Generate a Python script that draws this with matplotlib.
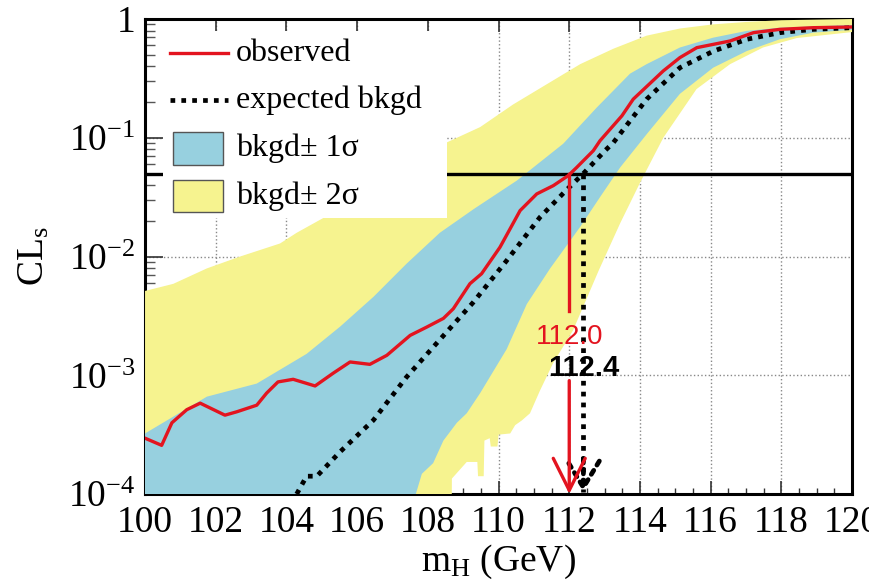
"""CLs vs m_H — observed / expected with 1 and 2 sigma bands (LEP-style)."""

import numpy as np
import matplotlib
matplotlib.use("Agg")
import matplotlib.pyplot as plt
from matplotlib.lines import Line2D
from matplotlib.patches import Rectangle
from matplotlib.ticker import FixedLocator, FixedFormatter, MultipleLocator, NullFormatter

plt.rcParams["font.family"] = ["Liberation Serif", "DejaVu Serif"]
plt.rcParams["mathtext.fontset"] = "custom"
plt.rcParams["mathtext.rm"] = "Liberation Serif"
plt.rcParams["mathtext.it"] = "Liberation Serif:italic"

# ---- data: log10(CLs) ----
obs_mh = [100.0, 100.47, 100.76, 101.18, 101.56, 102.26, 102.59, 103.16, 103.44, 103.76,
          104.19, 104.81, 105.32, 105.80, 106.36, 106.84, 107.50, 107.97, 108.44, 108.72,
          109.19, 109.52, 110.04, 110.61, 111.08, 111.55, 111.97, 112.21, 112.68, 112.87,
          113.49, 113.81, 114.66, 115.13, 115.61, 116.08, 116.55, 117.21, 117.96, 118.90, 120.0]
obs_log = [-3.53, -3.59, -3.40, -3.29, -3.235, -3.336, -3.308, -3.252, -3.15, -3.056,
           -3.034, -3.09, -2.983, -2.888, -2.908, -2.832, -2.664, -2.594, -2.521, -2.44,
           -2.229, -2.145, -1.922, -1.613, -1.473, -1.403, -1.319, -1.25, -1.109, -1.025,
           -0.815, -0.675, -0.437, -0.325, -0.241, -0.213, -0.185, -0.115, -0.087, -0.073, -0.067]

exp_mh = [104.29, 104.57, 104.86, 105.52, 106.46, 107.40, 108.34, 109.29, 110.23, 111.17,
          111.92, 112.40, 113.01, 113.25, 114.19, 115.13, 116.08, 117.02, 117.96, 118.90, 120.0]
exp_log = [-4.0, -3.85, -3.85, -3.644, -3.378, -3.014, -2.70, -2.384, -2.034, -1.67,
           -1.44, -1.301, -1.109, -1.04, -0.675, -0.41, -0.27, -0.171, -0.115, -0.087, -0.073]

# +-1 sigma band
s1_hi_mh = [100.0, 101.75, 103.16, 104.57, 105.52, 106.46, 107.40, 108.34, 109.30, 110.52,
            111.83, 112.78, 113.72, 114.19, 115.13, 116.07, 117.02, 117.96, 120.0]
s1_hi_log = [-3.49, -3.18, -3.07, -2.82, -2.59, -2.34, -2.06, -1.80, -1.60, -1.36,
             -1.05, -0.745, -0.46, -0.38, -0.24, -0.157, -0.10, -0.073, -0.05]
s1_lo_mh = [100.0, 107.55, 107.64, 107.83, 108.15, 108.44, 108.82, 109.10, 109.48, 110.23,
            110.80, 111.46, 112.31, 112.87, 113.44, 114.19, 115.13, 116.07, 117.02, 117.96,
            118.90, 120.0]
s1_lo_log = [-5.0, -5.0, -4.02, -3.83, -3.74, -3.55, -3.40, -3.32, -3.15, -2.78,
             -2.40, -2.10, -1.75, -1.50, -1.25, -0.97, -0.63, -0.41, -0.27, -0.17,
             -0.115, -0.09]

# +-2 sigma band
s2_hi_mh = [100.0, 100.80, 101.75, 102.69, 103.82, 104.29, 105.50, 107.00, 108.53, 109.48,
            110.41, 111.36, 112.31, 113.25, 114.19, 115.13, 116.07, 117.00, 118.00, 120.0]
s2_hi_log = [-2.29, -2.23, -2.10, -2.0, -1.89, -1.80, -1.60, -1.30, -1.04, -0.91,
             -0.72, -0.55, -0.38, -0.25, -0.14, -0.08, -0.045, -0.025, -0.01, 0.0]
s2_lo_mh = [100.0, 108.66, 108.68, 109.10, 109.40, 109.42, 109.58, 109.60, 109.75, 109.78,
            109.97, 110.00, 110.33, 110.47, 110.66, 110.89, 111.17, 111.54, 112.11, 112.83,
            113.44, 114.00, 114.66, 115.60, 116.55, 117.48, 118.44, 120.0]
s2_lo_log = [-5.0, -5.0, -3.87, -3.73, -3.73, -3.85, -3.85, -3.55, -3.53, -3.60,
             -3.60, -3.50, -3.49, -3.42, -3.38, -3.32, -3.13, -2.90, -2.62, -2.12,
             -1.72, -1.38, -1.00, -0.59, -0.38, -0.24, -0.16, -0.11]

cl_level = 0.05
obs_limit = 112.0
exp_limit = 112.4

x_ticks = [100, 102, 104, 106, 108, 110, 112, 114, 116, 118, 120]
y_ticks = [1e-4, 1e-3, 1e-2, 1e-1, 1]
y_ticklabels = ["$10^{-4}$", "$10^{-3}$", "$10^{-2}$", "$10^{-1}$", "1"]

RED = "#e3141f"
BLUE = "#97d0df"
YELLOW = "#f6f38f"
DOTS = (0, (1.0, 1.3))
LW_DOT = 3.4

fig = plt.figure(figsize=(8.69, 5.87), dpi=100)
ax = fig.add_axes([0.1669, 0.1584, 0.8136, 0.8092])
ax.set_yscale("log")


def band(hi_x, hi_y, lo_x, lo_y):
    xs = np.r_[hi_x, lo_x[::-1]]
    ys = np.power(10.0, np.r_[hi_y, lo_y[::-1]])
    return xs, ys


ax.fill(*band(s2_hi_mh, s2_hi_log, s2_lo_mh, s2_lo_log), color=YELLOW, lw=0, zorder=3)
ax.fill(*band(s1_hi_mh, s1_hi_log, s1_lo_mh, s1_lo_log), color=BLUE, lw=0, zorder=3.1)

ax.axhline(cl_level, color="black", lw=2.4, zorder=3.3)

# white legend box sits on top of the bands
ax.add_patch(Rectangle((0.0255, 0.581), 0.4015, 0.394, transform=ax.transAxes,
                       facecolor="white", edgecolor="none", zorder=3.5))

ax.plot(exp_mh, np.power(10.0, exp_log), color="black", lw=LW_DOT, ls=DOTS, zorder=4.4)
ax.plot(obs_mh, np.power(10.0, obs_log), color=RED, lw=2.4, zorder=4.5)

# limit arrows
ax.plot([obs_limit, obs_limit], [cl_level, 3.5e-3], color=RED, lw=2.4, zorder=5)
ax.annotate("", xy=(obs_limit, 1e-4), xytext=(obs_limit, 9.0e-4),
            arrowprops=dict(arrowstyle="->,head_length=2.3,head_width=1.15", color=RED,
                            lw=2.4, shrinkA=0, shrinkB=0, mutation_scale=10), zorder=5)
ax.plot([exp_limit, exp_limit], [cl_level, 1.04e-4], color="black", lw=LW_DOT, ls=DOTS,
        zorder=4.8)
ax.annotate("", xy=(exp_limit, 1.04e-4), xytext=(exp_limit, 2.0e-4),
            arrowprops=dict(arrowstyle="->,head_length=1.9,head_width=1.15",
                            color="black", lw=LW_DOT, ls=DOTS,
                            shrinkA=0, shrinkB=0, mutation_scale=10),
            zorder=4.8)
ax.text(obs_limit, 2.1e-3, f"{obs_limit:.1f}", color=RED, fontsize=20,
        family="Liberation Sans", ha="center", va="center", zorder=6)
ax.text(exp_limit + 0.02, 1.15e-3, f"{exp_limit:.1f}", color="black", fontsize=21,
        family="Liberation Sans", fontweight="bold", ha="center", va="center", zorder=6)

# legend drawn by hand in axes coordinates
tr = ax.transAxes
ax.add_line(Line2D([0.035, 0.117], [0.928, 0.928], transform=tr, color=RED, lw=2.4, zorder=6))
ax.add_line(Line2D([0.035, 0.117], [0.829, 0.829], transform=tr, color="black", lw=LW_DOT,
                   ls=DOTS, zorder=6))
ax.add_patch(Rectangle((0.0396, 0.693), 0.0707, 0.069, transform=tr, facecolor=BLUE,
                       edgecolor="#555555", lw=1.0, zorder=6))
ax.add_patch(Rectangle((0.0396, 0.594), 0.0707, 0.067, transform=tr, facecolor=YELLOW,
                       edgecolor="#555555", lw=1.0, zorder=6))
for y, txt in [(0.928, "observed"), (0.829, "expected bkgd"),
               (0.728, "bkgd\u00b1 1\u03c3"), (0.627, "bkgd\u00b1 2\u03c3")]:
    ax.text(0.1287, y, txt, transform=tr, fontsize=23, va="center", ha="left", zorder=6)

# axes, ticks, grid
ax.set_xlim(100, 120)
ax.set_ylim(1e-4, 1)
ax.set_xticks(x_ticks)
ax.xaxis.set_minor_locator(MultipleLocator(0.5))
ax.yaxis.set_major_locator(FixedLocator(y_ticks))
ax.yaxis.set_major_formatter(FixedFormatter(y_ticklabels))
minor_y = [m * 10.0 ** e for e in range(-4, 0) for m in range(2, 10)]
ax.yaxis.set_minor_locator(FixedLocator(minor_y))
ax.yaxis.set_minor_formatter(NullFormatter())

ax.tick_params(axis="x", which="major", direction="in", length=9.5, width=1.2,
               top=True, labelsize=27, pad=8, color="#333333")
ax.tick_params(axis="x", which="minor", direction="in", length=4.5, width=1.0,
               top=False, color="#333333")
ax.tick_params(axis="y", which="major", direction="in", length=13, width=1.2,
               right=False, labelsize=27, pad=7, color="#333333")
ax.tick_params(axis="y", which="minor", direction="in", length=7, width=1.0,
               right=False, color="#555555")
ax.grid(True, which="major", ls=":", color="#888888", lw=1.0)

for s in ax.spines.values():
    s.set_linewidth(2.2)
    s.set_color("black")

ax.set_xlabel("m$_\\mathrm{H}$ (GeV)", fontsize=27, labelpad=2)
ax.set_ylabel("CL$_\\mathrm{s}$", fontsize=27, labelpad=12)

fig.savefig("out.png", dpi=100)
